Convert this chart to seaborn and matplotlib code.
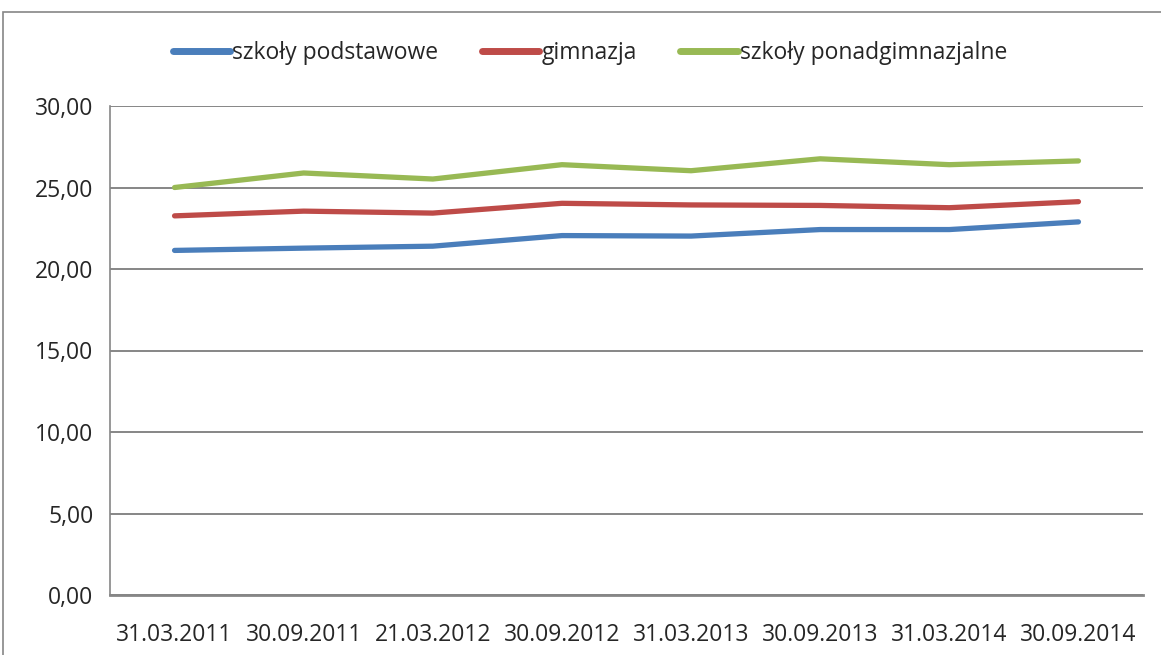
import numpy as np
import pandas as pd
import matplotlib.pyplot as plt
import matplotlib.patches as mpatches
from matplotlib.ticker import FixedLocator, FuncFormatter
import seaborn as sns

# Data
dates = ['31.03.2011', '30.09.2011', '21.03.2012', '30.09.2012',
         '31.03.2013', '30.09.2013', '31.03.2014', '30.09.2014']
podstawowe = [21.14, 21.28, 21.40, 22.05, 22.02, 22.42, 22.42, 22.89]
gimnazja = [23.26, 23.55, 23.43, 24.03, 23.93, 23.90, 23.76, 24.13]
ponadgimn = [25.00, 25.89, 25.52, 26.40, 26.03, 26.76, 26.40, 26.63]
series_names = ['szkoły podstawowe', 'gimnazja', 'szkoły ponadgimnazjalne']
colors = ['#4a7ebb', '#be4b48', '#98b954']

df = pd.DataFrame({
    'Data': dates * 3,
    'x': list(range(len(dates))) * 3,
    'Wartość': podstawowe + gimnazja + ponadgimn,
    'Seria': [series_names[0]] * 8 + [series_names[1]] * 8 + [series_names[2]] * 8,
})

sns.set_style('white')
plt.rcParams['font.family'] = ['Open Sans', 'DejaVu Sans']

fig = plt.figure(figsize=(11.61, 6.55), dpi=100)
ax = fig.add_axes([110/1161, 60/655, 1033/1161, 489/655])

sns.lineplot(data=df, x='x', y='Wartość', hue='Seria', palette=colors,
             linewidth=3.8, ax=ax, legend=False, solid_capstyle='round')

grid_c = '#868686'
ax.set_xlim(-0.5, 7.5)
ax.set_ylim(0, 30)
ax.set_yticks(np.arange(0, 31, 5))
ax.yaxis.set_major_formatter(FuncFormatter(lambda v, p: f'{v:.2f}'.replace('.', ',')))
ax.yaxis.grid(True, color=grid_c, linewidth=1.4)
ax.set_axisbelow(True)

ax.set_xticks(range(len(dates)))
ax.set_xticklabels(dates)
ax.xaxis.set_minor_locator(FixedLocator(np.arange(-0.5, 8, 1)))
ax.tick_params(axis='x', which='major', length=0, pad=20, labelsize=16.5)
ax.tick_params(axis='x', which='minor', length=7, width=1.2, color=grid_c, direction='out')
ax.tick_params(axis='y', length=7, width=1.2, color=grid_c, direction='out', pad=5, labelsize=16.5)
ax.set_xlabel('')
ax.set_ylabel('')

for side in ['top', 'right']:
    ax.spines[side].set_visible(False)
ax.spines['left'].set_color(grid_c)
ax.spines['left'].set_linewidth(1.2)
ax.spines['bottom'].set_color(grid_c)
ax.spines['bottom'].set_linewidth(2)

handles = [plt.Line2D([], [], color=c, linewidth=5, solid_capstyle='round') for c in colors]
fig.legend(handles, series_names, loc='center', bbox_to_anchor=(590/1161, 1 - 53/655),
           ncol=3, frameon=False, fontsize=16.5, handlelength=2.5, handletextpad=0.1,
           columnspacing=1.9)

# outer chart border (only top and left visible in the crop)
fig.add_artist(mpatches.Rectangle((3/1161, -0.2), 1.5, 1.2 - 12/655,
                                  transform=fig.transFigure, fill=False,
                                  edgecolor=grid_c, linewidth=1.2))

fig.savefig('out.png', dpi=100)
